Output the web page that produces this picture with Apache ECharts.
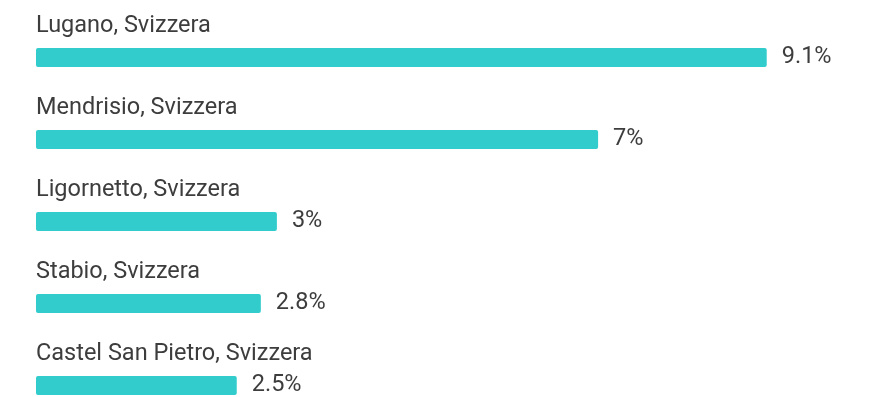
<!DOCTYPE html>
<html>
<head>
<meta charset="utf-8">
<script src="https://cdn.jsdelivr.net/npm/echarts@6/dist/echarts.min.js"></script>
<style>
  html, body { margin: 0; padding: 0; background: #fff; }
  #chart { width: 872px; height: 397px; }
</style>
</head>
<body>
<div id="chart"></div>
<script>
const cities = [
  "Lugano, Svizzera",
  "Mendrisio, Svizzera",
  "Ligornetto, Svizzera",
  "Stabio, Svizzera",
  "Castel San Pietro, Svizzera"
]
const shares = [9.1, 7, 3, 2.8, 2.5]

const chart = echarts.init(document.getElementById("chart"))
chart.setOption({
  animation: false,
  grid: { left: 36, right: 33, top: 16.5, height: 410, outerBoundsMode: "none" },
  xAxis: { type: "value", min: 0, max: 10, show: false },
  yAxis: {
    type: "category",
    inverse: true,
    data: cities,
    axisLine: { show: false },
    axisTick: { show: false },
    splitLine: { show: false },
    axisLabel: {
      inside: true,
      margin: 0,
      align: "left",
      verticalAlign: "bottom",
      padding: [0, 0, 19.5, 0],
      fontFamily: "Roboto",
      fontSize: 23.5,
      color: "#3d3d3d"
    },
    z: 5
  },
  series: [
    {
      type: "bar",
      data: shares,
      barWidth: 19,
      itemStyle: { color: "#33CCCC", borderRadius: 2 },
      label: {
        show: true,
        position: "right",
        distance: 15,
        fontFamily: "Roboto",
        fontSize: 23.5,
        color: "#3d3d3d",
        formatter: p => p.value + "%"
      }
    }
  ]
})
</script>
</body>
</html>
